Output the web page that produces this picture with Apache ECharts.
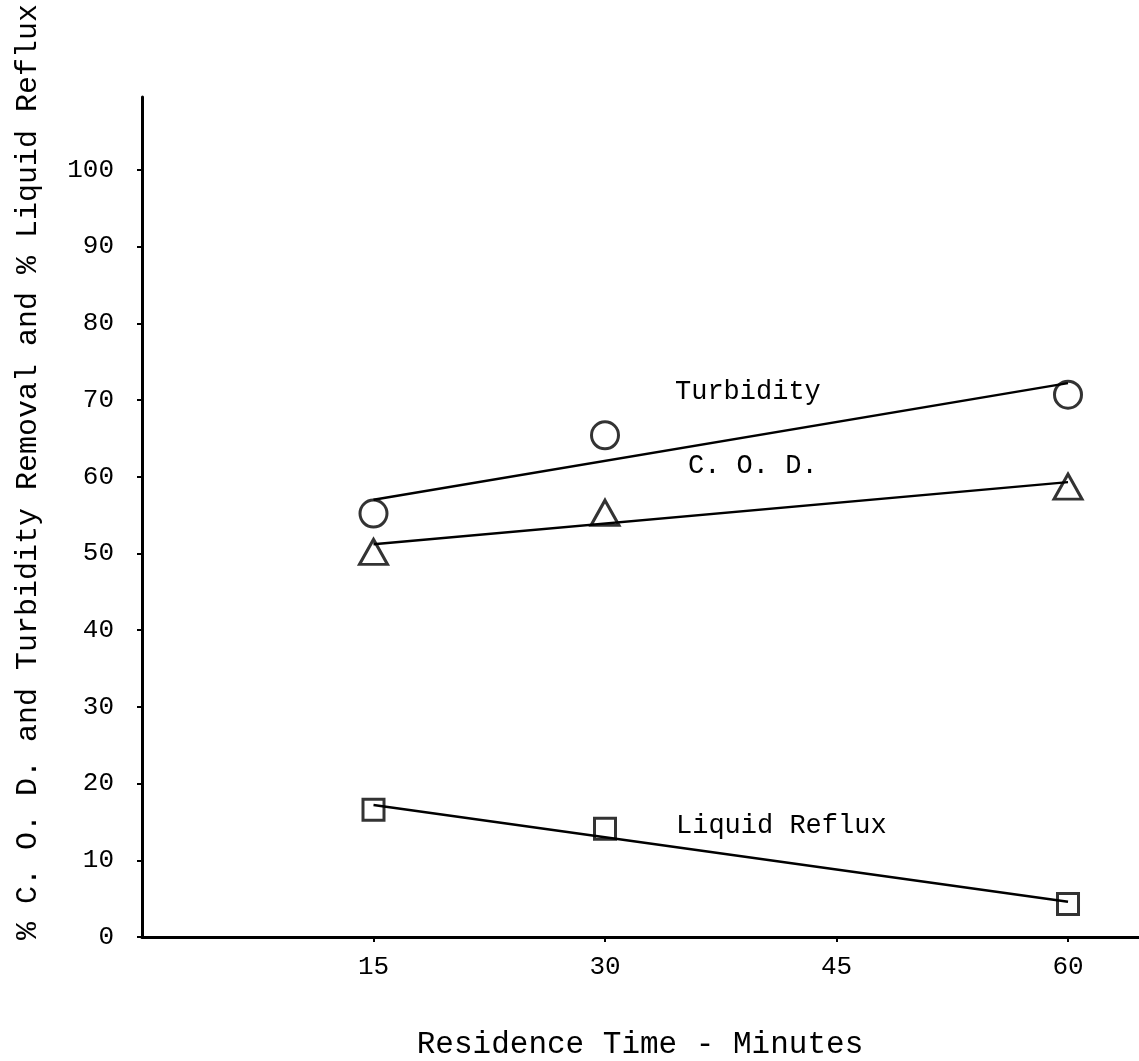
<!DOCTYPE html>
<html>
<head>
<meta charset="utf-8">
<script src="https://cdn.jsdelivr.net/npm/echarts@6/dist/echarts.min.js"></script>
<style>
html, body { margin: 0; padding: 0; background: #fff; }
#main { width: 1139px; height: 1061px; }
</style>
</head>
<body>
<div id="main"></div>
<script>
// tick values
var xTicks = [15, 30, 45, 60];
var yTicks = [0, 10, 20, 30, 40, 50, 60, 70, 80, 90, 100];

// measured points (residence time, percent)
var turbidityPts = [[15, 55.2], [30, 65.4], [60, 70.7]];
var codPts = [[15, 50.2], [30, 55.3], [60, 58.7]];
var refluxPts = [[15, 16.6], [30, 14.1], [60, 4.3]];

// drawn trend lines (end points)
var turbidityFit = [[15, 57.0], [60, 72.2]];
var codFit = [[15, 51.2], [60, 59.3]];
var refluxFit = [[15, 17.2], [60, 4.6]];

var font = '"Liberation Mono", "DejaVu Sans Mono", monospace';
var ink = '#000';

var myChart = echarts.init(document.getElementById('main'));

function fitLine(data) {
    return {
        type: 'line',
        data: data,
        symbol: 'none',
        silent: true,
        lineStyle: { color: ink, width: 2.4 },
        z: 2
    };
}
function points(data, symbol, size) {
    return {
        type: 'scatter',
        data: data,
        symbol: symbol,
        symbolSize: size,
        itemStyle: { color: 'rgba(255,255,255,0)', borderColor: ink, borderWidth: 3 },
        z: 3
    };
}

var option = {
    animation: false,
    backgroundColor: '#fff',
    grid: { left: 142, right: 0, top: 97, bottom: 124 },
    xAxis: {
        type: 'value',
        min: 0,
        max: 64.6,
        axisLine: { lineStyle: { color: ink, width: 3 } },
        axisTick: { customValues: xTicks, length: 5, lineStyle: { color: ink, width: 2 } },
        axisLabel: { customValues: xTicks, margin: 17, color: ink, fontFamily: font, fontSize: 26 },
        splitLine: { show: false }
    },
    yAxis: {
        type: 'value',
        min: 0,
        max: 109.5,
        axisLine: { lineStyle: { color: ink, width: 3 } },
        axisTick: { customValues: yTicks, length: 5, lineStyle: { color: ink, width: 2 } },
        axisLabel: { customValues: yTicks, margin: 28, color: ink, fontFamily: font, fontSize: 26 },
        splitLine: { show: false }
    },
    graphic: [
        { type: 'text', left: 675, top: 378, style: { text: 'Turbidity', fill: ink, font: '27px ' + font } },
        { type: 'text', left: 688, top: 452, style: { text: 'C. O. D.', fill: ink, font: '27px ' + font } },
        { type: 'text', left: 676, top: 812, style: { text: 'Liquid Reflux', fill: ink, font: '27px ' + font } },
        { type: 'text', x: 640, y: 1045, style: { text: 'Residence Time - Minutes', fill: ink, font: '31px ' + font, textAlign: 'center', textVerticalAlign: 'middle' } },
        { type: 'text', x: 28, y: 472, rotation: Math.PI / 2, style: { text: '% C. O. D. and Turbidity Removal and % Liquid Reflux', fill: ink, font: '30px ' + font, textAlign: 'center', textVerticalAlign: 'middle' } }
    ],
    series: [
        fitLine(turbidityFit),
        fitLine(codFit),
        fitLine(refluxFit),
        points(turbidityPts, 'circle', 27),
        points(codPts, 'triangle', [28, 25]),
        points(refluxPts, 'rect', 21)
    ]
};
myChart.setOption(option, true);
</script>
</body>
</html>
